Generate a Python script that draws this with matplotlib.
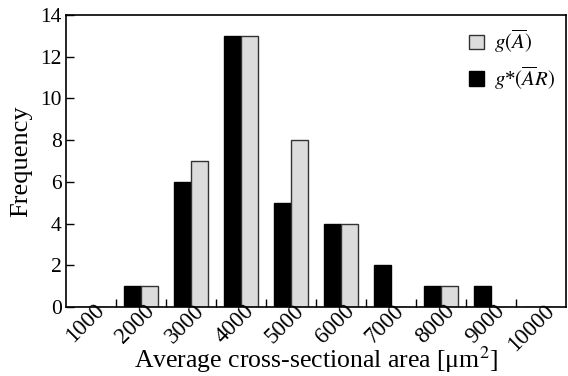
import numpy as np
import matplotlib.pyplot as plt

plt.rcParams["font.family"] = ["Liberation Serif", "DejaVu Serif"]
plt.rcParams["mathtext.fontset"] = "stix"

bins = ["1000", "2000", "3000", "4000", "5000", "6000", "7000", "8000", "9000", "10000"]
g_star_AR = [0, 1, 6, 13, 5, 4, 2, 1, 1, 0]
g_A = [0, 1, 7, 13, 8, 4, 0, 1, 0, 0]

x = np.arange(len(bins))
w = 0.34

fig = plt.figure(figsize=(5.68, 3.76), dpi=100)
ax = fig.add_axes([0.116, 0.1835, 0.880, 0.777])

ax.bar(x - w / 2, g_star_AR, width=w, color="black", edgecolor="black",
       linewidth=1, label=r"$g$*$(\overline{A}R)$")
ax.bar(x + w / 2, g_A, width=w, color="#dcdcdc", edgecolor="#333333",
       linewidth=1, label=r"$g(\overline{A})$")

ax.set_xlim(-0.5, len(bins) - 0.5)
ax.set_ylim(0, 14)
ax.set_yticks(range(0, 15, 2))

# labels sit at bin centres, ticks mark bin boundaries
ax.set_xticks(x + 0.06)
ax.set_xticklabels(bins, rotation=45, ha="right", rotation_mode="anchor", fontsize=16.5)
ax.tick_params(axis="x", which="major", length=0, pad=-5)
ax.set_xticks(x[:-1] + 0.5, minor=True)
ax.tick_params(axis="x", which="minor", direction="in", length=6, width=1)
ax.tick_params(axis="y", direction="in", length=6, width=1, labelsize=15.5, pad=3)

for s in ax.spines.values():
    s.set_linewidth(1.2)

ax.set_ylabel("Frequency", fontsize=19, labelpad=6)
ax.set_xlabel(r"Average cross-sectional area [μm$^2$]", fontsize=18.5)
ax.xaxis.set_label_coords(0.5, -0.128)

handles, labels = ax.get_legend_handles_labels()
ax.legend(handles[::-1], labels[::-1], loc="upper right", frameon=False,
          fontsize=15, handlelength=0.7, handleheight=0.7, handletextpad=0.5,
          labelspacing=0.45, borderaxespad=0.1, bbox_to_anchor=(1.0, 0.99))

fig.savefig("out.png", dpi=100)
